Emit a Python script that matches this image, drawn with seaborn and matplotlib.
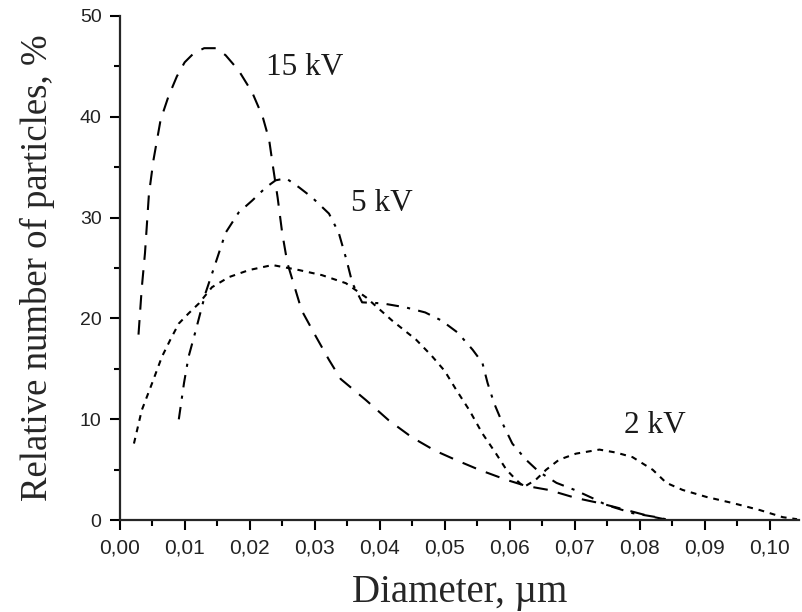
import matplotlib
matplotlib.use("Agg")
import matplotlib.pyplot as plt
import seaborn as sns
from matplotlib.ticker import MultipleLocator, FuncFormatter

# ---- data ----
x15 = [0.0029, 0.0034, 0.0039, 0.0045, 0.0052, 0.0063, 0.0075, 0.0088, 0.0100, 0.0114,
       0.0130, 0.0148, 0.0163, 0.0183, 0.0204, 0.0220, 0.0230, 0.0236, 0.0243, 0.0250,
       0.0258, 0.0280, 0.0302, 0.0322, 0.0340, 0.0379, 0.0414, 0.0450, 0.0485, 0.0518,
       0.0553, 0.0595, 0.0625, 0.0660, 0.0702, 0.0738, 0.0780, 0.0815, 0.0838]
y15 = [18.4, 23.0, 26.5, 32.3, 35.7, 39.7, 42.0, 44.0, 45.4, 46.3,
       46.8, 46.8, 46.1, 44.6, 42.4, 40.0, 37.7, 35.0, 32.0, 28.5,
       25.5, 20.8, 18.2, 15.9, 14.0, 11.9, 9.9, 8.2, 6.9, 5.95,
       5.0, 4.0, 3.4, 3.0, 2.2, 1.7, 1.0, 0.4, 0.1]

x5 = [0.0091, 0.0099, 0.0106, 0.0117, 0.0132, 0.0145, 0.0163, 0.0183, 0.0204, 0.0225,
      0.0240, 0.0256, 0.0276, 0.0296, 0.0322, 0.0337, 0.0349, 0.0358, 0.0373, 0.0404,
      0.0440, 0.0470, 0.0495, 0.0520, 0.0543, 0.0558, 0.0566, 0.0576, 0.0589, 0.0604,
      0.0625, 0.0645, 0.0672, 0.0700, 0.0727, 0.0749, 0.0789, 0.0826, 0.0840]
y5 = [10.0, 13.6, 16.2, 18.8, 22.5, 25.0, 28.5, 30.5, 31.7, 33.0,
      33.7, 33.9, 33.0, 32.0, 30.4, 28.5, 25.8, 23.5, 21.6, 21.5,
      21.1, 20.6, 19.8, 18.6, 16.9, 15.6, 13.6, 11.6, 9.6, 7.6,
      6.0, 4.8, 3.7, 3.0, 2.2, 1.5, 0.7, 0.3, 0.1]

x2 = [0.0022, 0.0034, 0.0050, 0.0065, 0.0078, 0.0091, 0.0106, 0.0122, 0.0142, 0.0168,
      0.0199, 0.0235, 0.0276, 0.0311, 0.0348, 0.0379, 0.0419, 0.0456, 0.0480, 0.0500,
      0.0518, 0.0538, 0.0558, 0.0579, 0.0595, 0.0610, 0.0622, 0.0640, 0.0656, 0.0676,
      0.0702, 0.0738, 0.0764, 0.0789, 0.0820, 0.0841, 0.0866, 0.0903, 0.0943, 0.0985,
      0.1020, 0.1042]
y2 = [7.6, 10.9, 13.6, 16.2, 17.9, 19.5, 20.5, 21.5, 23.1, 24.1,
      24.8, 25.3, 24.8, 24.3, 23.5, 22.1, 19.8, 17.9, 16.3, 14.8,
      12.9, 10.9, 8.6, 6.6, 5.0, 4.0, 3.3, 4.0, 5.0, 6.0,
      6.6, 7.0, 6.7, 6.25, 5.0, 3.7, 3.0, 2.3, 1.7, 1.0,
      0.3, 0.1]

labels = ["15 kV", "5 kV", "2 kV"]
label_pos = [(0.0284, 44.9), (0.0404, 31.4), (0.0823, 9.4)]

xticks = [0.00, 0.01, 0.02, 0.03, 0.04, 0.05, 0.06, 0.07, 0.08, 0.09, 0.10]
yticks = [0, 10, 20, 30, 40, 50]

# ---- style ----
sns.set_style("ticks")
serif = "Liberation Serif"
plt.rcParams["font.family"] = ["Liberation Sans", "DejaVu Sans"]

fig = plt.figure(figsize=(8.03, 6.12), dpi=100)
ax = fig.add_axes([0.149, 0.150, 0.846, 0.824])

lw = 1.5
sns.lineplot(x=x15, y=y15, ax=ax, color="black", lw=lw, estimator=None, errorbar=None,
             linestyle=(0, (7, 5)))
sns.lineplot(x=x5, y=y5, ax=ax, color="black", lw=lw, estimator=None, errorbar=None,
             linestyle=(0, (6, 4, 1.5, 4)))
sns.lineplot(x=x2, y=y2, ax=ax, color="black", lw=lw, estimator=None, errorbar=None,
             linestyle=(0, (2.8, 2.8)))

for t, (lx, ly) in zip(labels, label_pos):
    ax.text(lx, ly, t, ha="center", va="center", fontsize=22.5, family=serif, color="#1a1a1a")

ax.set_xlim(0, 0.1045)
ax.set_ylim(0, 50)
ax.set_xticks(xticks)
ax.set_yticks(yticks)
ax.xaxis.set_minor_locator(MultipleLocator(0.005))
ax.yaxis.set_minor_locator(MultipleLocator(5))
ax.xaxis.set_major_formatter(FuncFormatter(lambda v, p: f"{v:.2f}".replace(".", ",")))

ax.tick_params(which="major", direction="out", length=7, width=1.5, colors="black")
ax.tick_params(which="minor", direction="out", length=4, width=1.5, colors="black")
ax.tick_params(axis="x", which="major", labelsize=15, pad=6, labelcolor="#222222")
ax.tick_params(axis="y", which="major", labelsize=14, pad=6, labelcolor="#222222")

for s in ["top", "right"]:
    ax.spines[s].set_visible(False)
for s in ["left", "bottom"]:
    ax.spines[s].set_linewidth(1.6)

ax.set_xlabel("Diameter, µm", fontsize=28, family=serif, labelpad=12)
ax.set_ylabel("Relative number of particles, %", fontsize=26.5, family=serif, labelpad=18)

fig.savefig("out.png", dpi=100)
